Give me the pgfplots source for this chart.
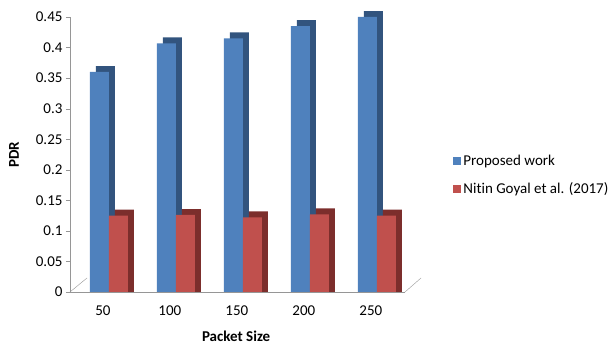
\documentclass[border=0pt]{standalone}
\usepackage{fontspec}
\setmainfont{Carlito}[Ligatures=NoCommon]
\usepackage{pgfplots}
\usepackage{pgfplotstable}
\pgfplotsset{compat=1.18}
\definecolor{pblue}{RGB}{79,129,189}
\definecolor{pblued}{RGB}{50,84,126}
\definecolor{pred}{RGB}{192,80,77}
\definecolor{predd}{RGB}{124,46,44}
\definecolor{axgray}{RGB}{150,150,150}
\pgfplotstableread{
x size blue red
0 50 0.360 0.125
1 100 0.407 0.126
2 150 0.415 0.122
3 200 0.435 0.127
4 250 0.450 0.125
}\datatable
\begin{document}
\begin{tikzpicture}
\begin{axis}[
  name=ax,
  scale only axis, width=335pt, height=275pt,
  xmin=-0.58, xmax=4.42, ymin=0, ymax=0.45,
  axis lines=left,
  axis line style={-, draw=axgray},
  xtick={0,1,2,3,4},
  xticklabels={50,100,150,200,250},
  x tick style={draw=none},
  ytick={0,0.05,0.1,0.15,0.2,0.25,0.3,0.35,0.4,0.45},
  y tick style={draw=axgray},
  tick align=outside,
  major tick length=4pt,
  scaled y ticks=false,
  yticklabel style={/pgf/number format/fixed, /pgf/number format/precision=2},
  /pgf/number format/assume math mode=true,
  tick label style={font=\fontsize{15}{18}\selectfont},
  xticklabel style={xshift=-6pt, yshift=-6pt},
  ylabel={\textbf{PDR}},
  xlabel={\textbf{Packet Size}},
  label style={font=\fontsize{15}{18}\selectfont},
  ylabel style={at={(axis description cs:-0.167,0.5)}, anchor=center},
  xlabel style={at={(axis description cs:0.496,-0.16)}, anchor=center},
  clip=false,
  legend style={at={(axis description cs:1.135,0.425)}, anchor=west,
    draw=none, fill=none, row sep=12pt, font=\fontsize{15}{18}\selectfont},
  legend cell align=left,
]
\addplot[ybar, bar width=19pt, bar shift=-3.5pt, fill=pblued, draw=none, forget plot]
  table[x=x, y expr=\thisrow{blue}+0.0098]{\datatable};
\addplot[ybar, bar width=19pt, bar shift=15.5pt, fill=predd, draw=none, forget plot]
  table[x=x, y expr=\thisrow{red}+0.0098]{\datatable};
\addplot[ybar, bar width=19pt, bar shift=-9.5pt, fill=pblue, draw=none,
  legend image code/.code={\fill[pblue] (0pt,-4pt) rectangle (8pt,4pt);}]
  table[x=x, y=blue]{\datatable};
\addlegendentry{Proposed work}
\addplot[ybar, bar width=19pt, bar shift=9.5pt, fill=pred, draw=none,
  legend image code/.code={\fill[pred] (0pt,-4pt) rectangle (8pt,4pt);}]
  table[x=x, y=red]{\datatable};
\addlegendentry{Nitin Goyal  et al. (2017)}
\end{axis}
\draw[axgray] (ax.south west) -- ++(17pt,14pt);
\draw[axgray] (ax.south east) -- ++(16pt,14pt);
\pgfresetboundingbox
\path ([shift={(-70pt,-55pt)}]ax.south west) rectangle ([shift={(544pt,292pt)}]ax.south west);
\end{tikzpicture}
\end{document}
